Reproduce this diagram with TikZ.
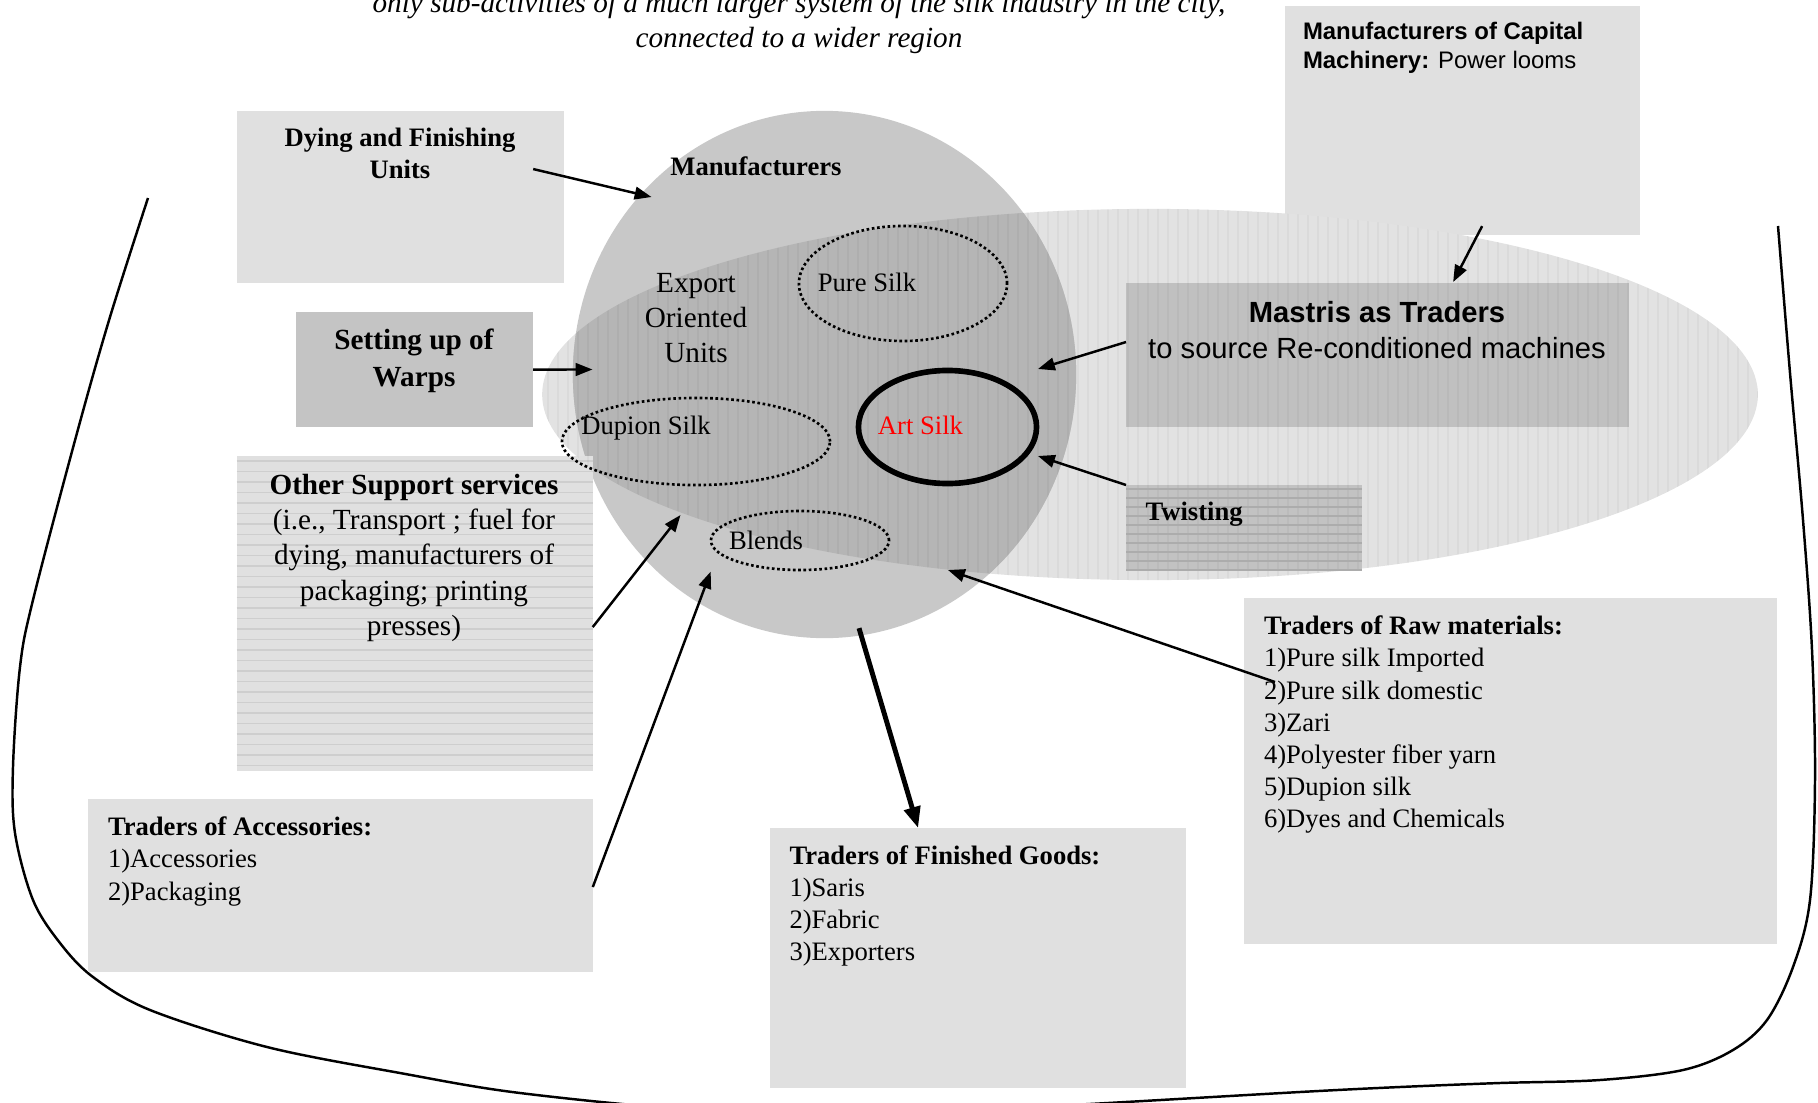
\documentclass[tikz,border=0pt]{standalone}
\usepackage{fontspec}
\setmainfont{Liberation Serif}
\setsansfont{Liberation Sans}
\usetikzlibrary{arrows.meta,shapes.geometric}
\definecolor{boxgray}{HTML}{E0E0E0}
\definecolor{darkbox}{HTML}{C4C4C4}
\definecolor{zonegray}{HTML}{E2E2E2}
\definecolor{circgray}{HTML}{C8C8C8}
\definecolor{overgray}{HTML}{B5B5B5}
\definecolor{mastgray}{HTML}{C0C0C0}
\definecolor{twistgray}{HTML}{C2C2C2}
\newcommand\fsA{\fontsize{7.57}{9.15}\selectfont}
\newcommand\fsB{\fontsize{8.31}{10.03}\selectfont}
\begin{document}
\begin{tikzpicture}[x=0.01cm,y=-0.01cm,
  box/.style={rectangle, inner sep=0pt, outer sep=0pt, anchor=north west, fill=boxgray},
  txt/.style={inner sep=0pt, outer sep=0pt},
  oval/.style={ellipse, inner sep=0pt, outer sep=0pt},
  dots/.style={oval, draw, line width=0.75pt, dash pattern=on 0.75pt off 0.75pt},
  arr/.style={line width=0.7pt, -{Triangle[length=4.8pt,width=3.6pt]}},
  thickarr/.style={line width=1.4pt, -{Triangle[length=6pt,width=4.6pt]}},
  vstripe/.style={black, opacity=0.035, line width=0.35pt},
]
\useasboundingbox (0,0) rectangle (1818,1103);

% outer boundary of the wider region
\draw[line width=0.7pt] plot[smooth, tension=0.55] coordinates {
  (148,198) (110,317) (77,433) (33,600) (20,667) (13,767) (15,833) (33,900)
  (60,943) (93,977) (150,1010) (267,1047) (400,1073) (520,1093) (700,1110)
  (900,1114) (1090,1104) (1300,1092) (1400,1087) (1500,1083) (1600,1080)
  (1683,1070) (1733,1050) (1767,1020) (1793,967) (1810,900) (1815,780)
  (1812,650) (1803,520) (1790,373) (1778,226)};

% boxes
\node[box, minimum width=3.55cm, minimum height=2.29cm] (capbox) at (1284.5,6) {};
\node[box, minimum width=3.27cm, minimum height=1.72cm] (dyingbox) at (236.5,111) {};
\node[box, fill=darkbox, minimum width=2.37cm, minimum height=1.15cm] (warpsbox) at (296,312) {};
\node[box, minimum width=5.045cm, minimum height=1.725cm] (accbox) at (88,799) {};
\node[box, minimum width=4.16cm, minimum height=2.595cm] (finbox) at (770,828) {};
\node[box, minimum width=5.33cm, minimum height=3.46cm] (rawbox) at (1244,598) {};

% silk zone and manufacturers
\node[oval, fill=zonegray, minimum width=12.15cm, minimum height=3.71cm] (zone) at (1150,394.5) {};
\node[oval, fill=circgray, minimum width=5.03cm, minimum height=5.27cm] (mfg) at (824.5,374.5) {};
\begin{scope}
  \clip (1150,394.5) ellipse [x radius=6.075cm, y radius=1.855cm];
  \fill[overgray] (824.5,374.5) ellipse [x radius=2.515cm, y radius=2.635cm];
\end{scope}

% other support services box with horizontal lines
\node[box, minimum width=3.56cm, minimum height=3.15cm] (supportbox) at (236.5,456) {};
\foreach \y in {461,471.5,...,771}
  \draw[color={rgb,255:red,206;green,206;blue,206}, line width=0.3pt] (236.5,\y) -- (592.5,\y);

\node[box, fill=mastgray, minimum width=5.03cm, minimum height=1.44cm] (mastrisbox) at (1126,283) {};
\node[box, fill=twistgray, minimum width=2.36cm, minimum height=0.85cm] (twistbox) at (1126,485) {};

% vertical stripes of the silk zone
\begin{scope}
  \clip (1150,394.5) ellipse [x radius=6.075cm, y radius=1.855cm];
  \foreach \x in {548,558,...,1758}
    \draw[vstripe] (\x,205) -- (\x,585);
\end{scope}
\foreach \y in {489,498,...,570}
  \draw[color={rgb,255:red,172;green,172;blue,172}, line width=0.3pt] (1126,\y) -- (1362,\y);

% inner ovals
\node[dots, minimum width=2.08cm, minimum height=1.15cm] (pure) at (903,283.5) {};
\node[dots, minimum width=2.68cm, minimum height=0.87cm] (dupion) at (696,441.5) {};
\node[dots, minimum width=1.78cm, minimum height=0.59cm] (blends) at (800,540.5) {};
\node[oval, draw, line width=1.6pt, minimum width=1.78cm, minimum height=1.13cm] (art) at (947.5,427) {};

% texts
\node[txt, anchor=north, align=center, font=\itshape\fontsize{8.31}{10}\selectfont] (title) at (799,-8)
  {only sub-activities of a much larger system of the silk industry in the city,\\connected to a wider region};
\node[txt, anchor=north, align=center, font=\fsA\bfseries] (dyingtxt) at (400,128) {Dying and Finishing\\Units};
\node[txt, anchor=base, font=\fsA\bfseries] (mfgtxt) at (756,175) {Manufacturers};
\node[txt, anchor=north, align=center, font=\fontsize{8.31}{9.96}\selectfont] (exporttxt) at (696,273) {Export\\Oriented\\Units};
\node[txt, anchor=base, font=\fsA] (puretxt) at (867,291) {Pure Silk};
\node[txt, anchor=base, font=\fsA] (dupiontxt) at (646,434) {Dupion Silk};
\node[txt, anchor=base, font=\fsA, text=red] (arttxt) at (920.5,434.5) {Art Silk};
\node[txt, anchor=base, font=\fsA] (blendtxt) at (766,549) {Blends};
\node[txt, anchor=north, align=center, font=\fontsize{8.31}{10.5}\selectfont\bfseries] (warpstxt) at (414,329) {Setting up of\\Warps};
\node[txt, anchor=north, align=center, font=\fsB] (supporttxt) at (414,474)
  {\textbf{Other Support services}\\(i.e., Transport ; fuel for\\dying, manufacturers of\\packaging; printing\\presses)};
\node[txt, anchor=north west, align=left, font=\fsA] (acctxt) at (108,817)
  {\textbf{Traders of Accessories:}\\1)Accessories\\2)Packaging};
\node[txt, anchor=north west, align=left, font=\fsA] (fintxt) at (789.5,845.5)
  {\textbf{Traders of Finished Goods:}\\1)Saris\\2)Fabric\\3)Exporters};
\node[txt, anchor=north west, align=left, font=\fsA] (rawtxt) at (1264,616)
  {\textbf{Traders of Raw materials:}\\1)Pure silk Imported\\2)Pure silk domestic\\3)Zari\\4)Polyester fiber yarn\\5)Dupion silk\\6)Dyes and Chemicals};
\node[txt, anchor=north west, align=left, font=\sffamily\fontsize{6.8}{8.25}\selectfont] (captxt) at (1303,22)
  {\textbf{Manufacturers of Capital}\\\textbf{Machinery:} Power looms};
\node[txt, anchor=north, align=center, font=\sffamily\fontsize{8.3}{10.2}\selectfont] (mastristxt) at (1377,301)
  {\textbf{Mastris as Traders}\\to source Re-conditioned machines};
\node[txt, anchor=base west, font=\fsA\bfseries] (twisttxt) at (1145.5,520) {Twisting};

% arrow tips inside the manufacturers oval
\coordinate (tipA) at (651.5,197);
\coordinate (tipB) at (592.5,369.5);
\coordinate (tipC) at (680.5,515);
\coordinate (tipD) at (710.7,571.6);
\coordinate (tipE) at (948,570);
\coordinate (tipH) at (1038,369);
\coordinate (tipI) at (1038,456);

% connectors
\draw[arr] ([shift={(-30.5,-28)}]dyingbox.east) -- (tipA);
\draw[arr] (warpsbox.east) -- (tipB);
\draw[arr] ([shift={(0,13.5)}]supportbox.east) -- (tipC);
\draw[arr] ([shift={(0,1.75)}]accbox.east) -- (tipD);
\draw[arr] ([shift={(31,84)}]rawbox.north west) -- (tipE);
\draw[thickarr] ([shift={(34.5,-10)}]mfg.south) -- ([shift={(-60,0)}]finbox.north);
\draw[arr] ([shift={(20,-9)}]capbox.south) -- ([shift={(75.5,-1)}]mastrisbox.north);
\draw[arr] ([shift={(0,-13)}]mastrisbox.west) -- (tipH);
\draw[arr] (twistbox.north west) -- (tipI);
\end{tikzpicture}
\end{document}
